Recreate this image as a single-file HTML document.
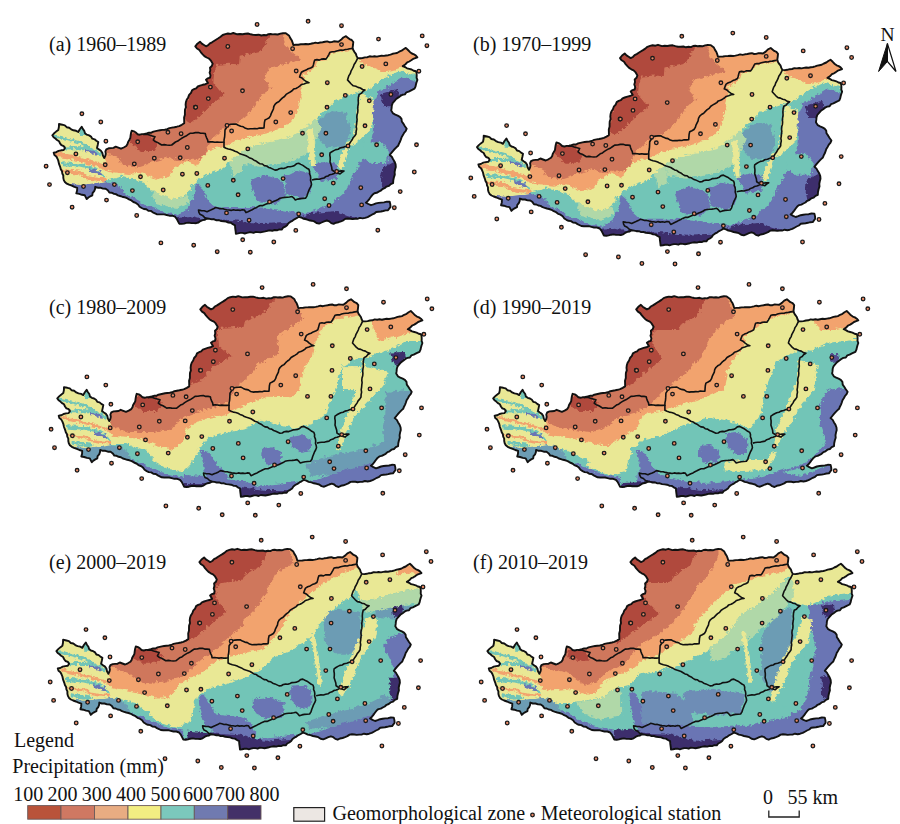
<!DOCTYPE html><html><head><meta charset="utf-8"><style>
html,body{margin:0;padding:0;background:#fff;width:900px;height:824px;overflow:hidden}
svg{display:block}
text{font-family:"Liberation Serif",serif;fill:#111}
</style></head><body>
<svg width="900" height="824" viewBox="0 0 900 824">
<defs>

<clipPath id="lp"><polygon points="195.3,46.3 197.4,43.7 200.0,41.7 201.8,43.6 204.0,45.0 206.0,46.3 208.2,45.2 209.9,43.4 212.0,42.3 214.0,41.0 216.0,39.7 218.3,38.3 220.6,36.8 222.7,35.0 225.3,34.1 227.9,33.5 230.7,33.9 233.3,33.0 237.3,34.3 240.0,34.0 242.7,34.2 245.3,33.7 248.0,33.5 250.7,34.3 253.3,34.9 256.0,35.0 258.7,34.7 261.3,35.5 264.0,35.0 266.2,35.3 268.4,34.2 270.6,34.0 272.8,34.4 275.0,34.2 277.7,34.5 280.4,33.6 283.1,33.2 285.8,33.3 289.2,35.8 290.3,38.1 291.7,40.2 292.6,42.6 293.3,45.0 295.8,44.8 298.3,44.7 300.8,44.3 303.3,44.2 305.8,44.0 308.3,44.2 310.7,43.8 313.0,43.3 315.4,42.6 317.9,43.1 320.2,42.5 322.6,42.2 325.0,41.7 327.2,41.4 329.4,42.2 331.6,42.1 333.9,41.3 336.1,41.5 338.3,41.7 341.0,39.8 343.3,37.5 346.0,36.2 347.8,37.7 349.5,39.1 351.7,40.0 353.3,42.0 353.0,45.0 352.6,47.9 353.3,50.1 354.5,52.1 355.9,53.9 356.6,56.1 357.7,58.1 360.2,58.3 362.6,58.0 365.0,57.4 367.4,57.2 369.7,56.3 372.2,56.6 374.5,56.2 376.9,56.6 379.2,56.1 381.5,55.7 383.9,55.9 386.1,55.5 388.3,55.2 390.5,54.6 392.6,53.8 394.8,53.4 397.0,53.0 399.2,51.7 401.6,50.7 403.6,49.2 405.8,47.9 408.0,50.0 410.1,52.2 411.9,53.5 414.0,54.3 415.9,55.6 417.4,57.3 415.3,58.1 413.1,58.9 411.2,60.3 409.3,61.5 407.2,62.4 405.2,64.5 402.8,66.1 405.0,67.0 407.0,68.3 409.3,68.9 411.6,69.5 413.7,70.7 416.0,71.2 416.6,73.3 416.7,75.6 416.6,77.8 417.4,79.9 416.6,82.1 416.0,84.3 415.5,86.6 414.5,88.7 411.6,90.1 408.7,91.6 406.4,92.3 404.9,94.4 402.4,94.8 400.4,95.9 398.5,97.4 396.2,99.0 394.4,101.1 392.6,103.2 391.8,105.6 391.6,108.1 391.2,110.5 393.1,113.4 395.3,114.6 397.7,115.6 399.9,116.8 401.5,118.8 401.8,121.5 403.3,123.6 404.9,126.2 406.7,128.7 405.7,131.0 404.1,132.9 402.9,135.1 401.6,137.2 400.9,139.4 400.1,141.5 399.0,143.6 398.2,145.7 396.4,147.3 394.7,149.0 393.1,150.8 391.4,152.9 389.7,155.0 391.8,156.8 393.1,159.3 394.6,161.7 395.6,164.4 395.8,167.0 395.1,169.5 394.6,172.0 394.8,174.6 393.9,177.4 393.3,180.2 393.1,183.1 390.8,184.1 389.0,185.9 386.5,186.6 384.6,188.2 382.5,189.0 380.7,190.7 378.7,191.7 376.7,192.8 374.4,193.3 372.5,194.8 371.0,196.7 369.5,198.8 367.9,200.9 365.9,202.6 368.4,204.0 371.0,205.2 373.5,204.4 376.0,203.4 378.6,202.9 381.2,202.6 384.0,202.4 386.8,201.7 389.7,201.8 390.3,204.3 390.5,206.9 388.0,210.3 385.6,210.4 383.2,211.0 380.9,211.5 378.5,211.7 376.1,212.0 374.2,213.7 371.9,214.7 369.8,215.9 367.6,217.1 365.1,217.9 362.6,218.4 359.9,217.9 357.4,218.8 355.0,218.8 352.6,219.1 350.3,218.7 347.9,218.5 345.5,218.8 343.3,220.3 340.9,221.3 338.5,222.2 335.9,222.7 333.6,223.9 331.2,223.1 329.2,221.4 326.8,220.5 324.2,221.4 321.6,222.5 319.1,223.6 316.5,223.0 314.2,221.4 311.6,220.7 308.9,220.2 306.4,219.3 303.7,218.8 301.3,217.5 298.7,216.8 296.6,218.2 294.4,219.3 292.4,220.8 290.2,221.9 288.4,223.3 287.1,225.3 285.2,226.7 283.1,227.7 281.7,229.6 279.3,229.4 277.0,230.3 274.5,230.0 272.2,230.8 269.8,230.4 267.5,230.8 265.1,231.4 262.8,231.9 260.4,232.4 258.0,232.1 255.8,231.9 253.6,232.9 251.3,232.3 249.1,232.3 246.9,232.9 244.8,233.5 242.5,232.9 240.3,232.9 238.1,233.4 235.9,233.8 235.6,231.0 235.2,228.1 235.0,225.3 232.8,224.2 230.8,222.8 228.4,222.6 226.1,221.6 223.6,221.3 221.2,221.0 218.9,220.2 216.5,220.3 214.2,219.3 211.7,219.4 209.4,218.8 207.0,218.5 205.0,219.7 202.6,220.1 200.4,221.1 198.5,222.5 196.1,223.2 193.7,223.1 191.3,223.1 188.8,222.6 186.4,222.9 184.0,223.6 181.6,223.9 179.2,223.7 178.0,221.3 176.7,218.8 175.0,216.7 172.3,215.7 169.4,215.7 166.7,215.0 164.2,214.4 161.7,214.4 159.2,214.4 156.7,214.2 152.8,212.3 150.8,210.9 148.3,210.7 146.3,209.3 143.8,209.0 141.7,208.0 139.6,206.7 138.0,204.5 135.8,202.9 133.4,202.0 131.4,200.4 129.0,199.4 126.8,198.0 124.4,197.2 122.2,196.7 120.0,196.0 117.9,195.4 115.9,194.1 113.6,193.7 111.6,192.7 109.3,192.5 107.8,190.3 105.6,188.7 102.9,188.6 100.4,187.7 97.7,187.7 95.2,186.8 95.0,189.1 94.2,191.2 92.6,193.0 92.3,195.3 90.3,196.3 88.4,197.5 86.7,199.1 84.8,195.3 81.9,194.8 79.2,193.9 76.3,193.4 77.1,190.6 77.2,187.8 74.4,186.9 71.8,185.7 69.0,184.7 66.8,183.7 64.9,182.1 63.8,180.1 63.3,177.9 63.3,175.5 62.3,173.5 62.0,171.2 60.8,169.2 60.2,167.0 59.0,163.9 58.3,160.7 57.4,158.5 56.3,156.5 54.4,155.0 53.7,152.7 56.2,152.2 58.6,150.9 61.1,150.3 63.7,150.0 65.0,148.0 63.7,146.1 61.4,145.2 60.0,143.4 59.0,141.2 57.0,140.0 55.4,138.5 53.6,137.2 52.3,135.3 54.1,133.3 56.1,131.6 58.3,130.0 58.9,127.0 59.0,124.0 62.3,124.7 64.8,125.3 66.7,127.2 69.2,127.7 71.2,129.3 73.5,130.3 76.1,130.8 78.3,132.0 79.8,129.2 81.7,126.7 82.8,128.9 84.3,130.9 85.0,133.3 86.8,134.7 89.1,135.4 91.0,136.6 92.3,138.7 94.6,139.3 96.3,140.8 98.3,142.0 97.7,145.0 97.0,148.0 98.9,149.4 100.9,150.8 102.3,152.7 102.9,155.5 104.3,158.0 105.3,155.9 105.8,153.8 105.4,151.4 106.3,149.3 108.6,148.3 111.0,148.1 113.5,147.9 115.7,146.7 118.3,147.7 121.0,148.7 123.7,147.5 126.3,146.0 127.5,144.1 128.1,141.9 129.3,140.0 130.3,138.0 130.6,135.5 131.0,133.1 131.7,130.7 133.9,131.3 135.8,132.5 137.5,134.2 139.7,134.7 142.0,134.1 144.4,133.9 146.7,133.4 149.0,132.7 151.3,132.7 153.4,131.6 155.6,131.1 157.8,130.6 160.0,130.2 162.2,129.9 164.7,129.7 167.2,129.2 169.4,128.1 171.9,127.6 174.4,127.2 176.8,126.7 179.2,126.1 181.8,124.8 184.2,123.3 184.2,120.4 184.1,117.6 184.9,114.8 184.9,112.2 185.0,109.7 185.9,107.3 185.6,104.7 185.9,102.2 186.7,99.7 188.2,97.4 189.1,94.9 191.0,92.8 192.0,90.3 194.0,89.1 196.2,88.3 197.8,86.5 200.0,85.7 202.7,84.8 205.4,84.2 208.0,83.0 206.0,79.7 207.8,78.3 210.0,77.7 210.5,75.2 209.6,72.7 210.3,70.2 210.0,67.7 211.8,66.0 212.7,63.7 210.7,60.3 208.9,58.5 206.6,57.5 204.4,56.1 202.7,54.3 200.9,52.3 199.3,50.0 197.0,48.5"/></clipPath>
<g id="bd">
<polygon points="195.3,46.3 197.4,43.7 200.0,41.7 201.8,43.6 204.0,45.0 206.0,46.3 208.2,45.2 209.9,43.4 212.0,42.3 214.0,41.0 216.0,39.7 218.3,38.3 220.6,36.8 222.7,35.0 225.3,34.1 227.9,33.5 230.7,33.9 233.3,33.0 237.3,34.3 240.0,34.0 242.7,34.2 245.3,33.7 248.0,33.5 250.7,34.3 253.3,34.9 256.0,35.0 258.7,34.7 261.3,35.5 264.0,35.0 266.2,35.3 268.4,34.2 270.6,34.0 272.8,34.4 275.0,34.2 277.7,34.5 280.4,33.6 283.1,33.2 285.8,33.3 289.2,35.8 290.3,38.1 291.7,40.2 292.6,42.6 293.3,45.0 295.8,44.8 298.3,44.7 300.8,44.3 303.3,44.2 305.8,44.0 308.3,44.2 310.7,43.8 313.0,43.3 315.4,42.6 317.9,43.1 320.2,42.5 322.6,42.2 325.0,41.7 327.2,41.4 329.4,42.2 331.6,42.1 333.9,41.3 336.1,41.5 338.3,41.7 341.0,39.8 343.3,37.5 346.0,36.2 347.8,37.7 349.5,39.1 351.7,40.0 353.3,42.0 353.0,45.0 352.6,47.9 353.3,50.1 354.5,52.1 355.9,53.9 356.6,56.1 357.7,58.1 360.2,58.3 362.6,58.0 365.0,57.4 367.4,57.2 369.7,56.3 372.2,56.6 374.5,56.2 376.9,56.6 379.2,56.1 381.5,55.7 383.9,55.9 386.1,55.5 388.3,55.2 390.5,54.6 392.6,53.8 394.8,53.4 397.0,53.0 399.2,51.7 401.6,50.7 403.6,49.2 405.8,47.9 408.0,50.0 410.1,52.2 411.9,53.5 414.0,54.3 415.9,55.6 417.4,57.3 415.3,58.1 413.1,58.9 411.2,60.3 409.3,61.5 407.2,62.4 405.2,64.5 402.8,66.1 405.0,67.0 407.0,68.3 409.3,68.9 411.6,69.5 413.7,70.7 416.0,71.2 416.6,73.3 416.7,75.6 416.6,77.8 417.4,79.9 416.6,82.1 416.0,84.3 415.5,86.6 414.5,88.7 411.6,90.1 408.7,91.6 406.4,92.3 404.9,94.4 402.4,94.8 400.4,95.9 398.5,97.4 396.2,99.0 394.4,101.1 392.6,103.2 391.8,105.6 391.6,108.1 391.2,110.5 393.1,113.4 395.3,114.6 397.7,115.6 399.9,116.8 401.5,118.8 401.8,121.5 403.3,123.6 404.9,126.2 406.7,128.7 405.7,131.0 404.1,132.9 402.9,135.1 401.6,137.2 400.9,139.4 400.1,141.5 399.0,143.6 398.2,145.7 396.4,147.3 394.7,149.0 393.1,150.8 391.4,152.9 389.7,155.0 391.8,156.8 393.1,159.3 394.6,161.7 395.6,164.4 395.8,167.0 395.1,169.5 394.6,172.0 394.8,174.6 393.9,177.4 393.3,180.2 393.1,183.1 390.8,184.1 389.0,185.9 386.5,186.6 384.6,188.2 382.5,189.0 380.7,190.7 378.7,191.7 376.7,192.8 374.4,193.3 372.5,194.8 371.0,196.7 369.5,198.8 367.9,200.9 365.9,202.6 368.4,204.0 371.0,205.2 373.5,204.4 376.0,203.4 378.6,202.9 381.2,202.6 384.0,202.4 386.8,201.7 389.7,201.8 390.3,204.3 390.5,206.9 388.0,210.3 385.6,210.4 383.2,211.0 380.9,211.5 378.5,211.7 376.1,212.0 374.2,213.7 371.9,214.7 369.8,215.9 367.6,217.1 365.1,217.9 362.6,218.4 359.9,217.9 357.4,218.8 355.0,218.8 352.6,219.1 350.3,218.7 347.9,218.5 345.5,218.8 343.3,220.3 340.9,221.3 338.5,222.2 335.9,222.7 333.6,223.9 331.2,223.1 329.2,221.4 326.8,220.5 324.2,221.4 321.6,222.5 319.1,223.6 316.5,223.0 314.2,221.4 311.6,220.7 308.9,220.2 306.4,219.3 303.7,218.8 301.3,217.5 298.7,216.8 296.6,218.2 294.4,219.3 292.4,220.8 290.2,221.9 288.4,223.3 287.1,225.3 285.2,226.7 283.1,227.7 281.7,229.6 279.3,229.4 277.0,230.3 274.5,230.0 272.2,230.8 269.8,230.4 267.5,230.8 265.1,231.4 262.8,231.9 260.4,232.4 258.0,232.1 255.8,231.9 253.6,232.9 251.3,232.3 249.1,232.3 246.9,232.9 244.8,233.5 242.5,232.9 240.3,232.9 238.1,233.4 235.9,233.8 235.6,231.0 235.2,228.1 235.0,225.3 232.8,224.2 230.8,222.8 228.4,222.6 226.1,221.6 223.6,221.3 221.2,221.0 218.9,220.2 216.5,220.3 214.2,219.3 211.7,219.4 209.4,218.8 207.0,218.5 205.0,219.7 202.6,220.1 200.4,221.1 198.5,222.5 196.1,223.2 193.7,223.1 191.3,223.1 188.8,222.6 186.4,222.9 184.0,223.6 181.6,223.9 179.2,223.7 178.0,221.3 176.7,218.8 175.0,216.7 172.3,215.7 169.4,215.7 166.7,215.0 164.2,214.4 161.7,214.4 159.2,214.4 156.7,214.2 152.8,212.3 150.8,210.9 148.3,210.7 146.3,209.3 143.8,209.0 141.7,208.0 139.6,206.7 138.0,204.5 135.8,202.9 133.4,202.0 131.4,200.4 129.0,199.4 126.8,198.0 124.4,197.2 122.2,196.7 120.0,196.0 117.9,195.4 115.9,194.1 113.6,193.7 111.6,192.7 109.3,192.5 107.8,190.3 105.6,188.7 102.9,188.6 100.4,187.7 97.7,187.7 95.2,186.8 95.0,189.1 94.2,191.2 92.6,193.0 92.3,195.3 90.3,196.3 88.4,197.5 86.7,199.1 84.8,195.3 81.9,194.8 79.2,193.9 76.3,193.4 77.1,190.6 77.2,187.8 74.4,186.9 71.8,185.7 69.0,184.7 66.8,183.7 64.9,182.1 63.8,180.1 63.3,177.9 63.3,175.5 62.3,173.5 62.0,171.2 60.8,169.2 60.2,167.0 59.0,163.9 58.3,160.7 57.4,158.5 56.3,156.5 54.4,155.0 53.7,152.7 56.2,152.2 58.6,150.9 61.1,150.3 63.7,150.0 65.0,148.0 63.7,146.1 61.4,145.2 60.0,143.4 59.0,141.2 57.0,140.0 55.4,138.5 53.6,137.2 52.3,135.3 54.1,133.3 56.1,131.6 58.3,130.0 58.9,127.0 59.0,124.0 62.3,124.7 64.8,125.3 66.7,127.2 69.2,127.7 71.2,129.3 73.5,130.3 76.1,130.8 78.3,132.0 79.8,129.2 81.7,126.7 82.8,128.9 84.3,130.9 85.0,133.3 86.8,134.7 89.1,135.4 91.0,136.6 92.3,138.7 94.6,139.3 96.3,140.8 98.3,142.0 97.7,145.0 97.0,148.0 98.9,149.4 100.9,150.8 102.3,152.7 102.9,155.5 104.3,158.0 105.3,155.9 105.8,153.8 105.4,151.4 106.3,149.3 108.6,148.3 111.0,148.1 113.5,147.9 115.7,146.7 118.3,147.7 121.0,148.7 123.7,147.5 126.3,146.0 127.5,144.1 128.1,141.9 129.3,140.0 130.3,138.0 130.6,135.5 131.0,133.1 131.7,130.7 133.9,131.3 135.8,132.5 137.5,134.2 139.7,134.7 142.0,134.1 144.4,133.9 146.7,133.4 149.0,132.7 151.3,132.7 153.4,131.6 155.6,131.1 157.8,130.6 160.0,130.2 162.2,129.9 164.7,129.7 167.2,129.2 169.4,128.1 171.9,127.6 174.4,127.2 176.8,126.7 179.2,126.1 181.8,124.8 184.2,123.3 184.2,120.4 184.1,117.6 184.9,114.8 184.9,112.2 185.0,109.7 185.9,107.3 185.6,104.7 185.9,102.2 186.7,99.7 188.2,97.4 189.1,94.9 191.0,92.8 192.0,90.3 194.0,89.1 196.2,88.3 197.8,86.5 200.0,85.7 202.7,84.8 205.4,84.2 208.0,83.0 206.0,79.7 207.8,78.3 210.0,77.7 210.5,75.2 209.6,72.7 210.3,70.2 210.0,67.7 211.8,66.0 212.7,63.7 210.7,60.3 208.9,58.5 206.6,57.5 204.4,56.1 202.7,54.3 200.9,52.3 199.3,50.0 197.0,48.5" fill="none" stroke="#111" stroke-width="1.9" stroke-linejoin="round"/>
<polyline points="352.0,48.5 349.8,48.8 347.6,49.3 345.4,49.5 343.2,50.2 341.0,50.1 338.8,50.4 336.6,51.0 334.5,51.8 332.2,51.8 330.0,52.2 328.8,54.6 327.5,56.9 326.0,59.1 323.7,58.9 321.4,59.1 319.3,60.1 316.9,59.6 314.7,60.1 314.0,62.3 313.5,64.5 312.8,66.7 310.6,68.0 308.2,68.8 306.0,70.1 303.6,71.0 301.4,72.3 300.4,74.6 299.6,77.0 302.1,78.1 304.2,80.1 306.4,81.6 309.0,82.7 306.4,82.9 303.9,83.9 301.4,84.6 299.7,86.2 297.9,87.4 295.9,88.5 293.6,89.1 292.1,90.8 290.2,92.0 288.2,93.1 286.1,94.4 284.5,96.5 282.5,97.9 280.7,99.6 279.0,101.5 276.8,102.7 275.0,104.4 273.8,106.5 273.4,109.0 272.4,111.1 271.3,113.3 270.6,115.6 269.3,117.7 267.2,118.9 265.0,120.0 264.4,122.6 264.2,125.3 264.0,128.0 261.7,128.1 259.4,128.0 257.2,128.7 254.9,128.5 252.6,128.8 250.3,128.8 248.0,129.0 245.5,128.3 243.3,126.8 240.7,126.3 238.3,125.3 236.0,124.0 233.3,124.1 230.6,124.3 228.0,125.0 226.6,127.5 225.0,130.0 224.9,132.4 224.8,134.8 224.6,137.2 224.1,139.6 224.0,142.0 221.7,142.3 219.4,142.3 217.1,142.0 214.9,142.3 212.6,141.9 210.3,141.7 208.0,142.0 207.6,139.8 206.6,137.8 205.8,135.7 205.3,133.6 203.0,133.3 200.6,133.3 198.3,132.5 195.5,132.6 192.8,133.2 190.0,133.3 188.0,134.7 186.0,136.1 183.8,137.1 181.7,138.3 179.7,139.6 177.8,141.1 175.5,142.0 173.6,143.5 171.7,145.0 169.2,145.2 166.7,145.0 164.2,144.6 161.7,145.0 159.6,143.7 157.5,142.4 155.2,141.6 153.3,140.0 155.0,136.7 152.2,135.9 149.5,135.1 146.7,134.2 143.0,134.5" fill="none" stroke="#111" stroke-width="1.6" stroke-linejoin="round"/>
<polyline points="357.7,58.1 356.6,60.3 355.5,62.5 354.1,64.5 353.3,66.9 352.2,69.0 351.0,71.2 350.3,73.5 348.9,75.6 348.2,77.7 347.5,79.9 349.3,81.9 351.2,84.0 353.3,85.8 355.8,86.3 358.0,87.4 360.4,88.0 362.6,89.5 365.0,90.1 362.9,91.4 361.3,93.4 359.1,94.5 358.4,97.4 358.2,100.3 358.4,103.2 358.0,105.5 357.7,107.9 357.9,110.3 357.7,112.6 357.0,114.9 356.8,117.2 357.1,119.6 356.8,121.9 356.6,124.2 356.2,126.5 356.6,129.0 356.1,131.5 356.0,134.0 354.7,136.0 353.1,137.8 352.0,140.0 350.6,141.9 349.3,144.0 348.0,146.0 345.3,146.5 342.7,147.4 340.0,148.0 338.1,149.2 335.8,149.6 333.8,150.6 331.9,151.7 330.0,153.0 329.8,155.2 330.2,157.5 330.2,159.8 330.0,162.0 330.9,164.6 331.7,167.2 332.0,170.0 333.9,171.2 336.0,171.9 337.9,173.3 340.0,174.0 341.9,172.4 344.0,171.0 341.3,170.9 338.6,171.4 336.0,172.0 334.2,173.4 332.1,174.2 329.8,174.7 328.0,176.0 325.8,176.6 324.0,178.0 321.6,178.5 319.3,179.2 316.8,179.1 314.4,179.4 312.0,180.0" fill="none" stroke="#111" stroke-width="1.6" stroke-linejoin="round"/>
<polyline points="224.0,142.0 224.0,144.6 224.0,147.2 226.1,148.2 228.3,149.0 230.7,149.4 233.0,150.2 235.0,151.3 237.3,152.1 239.3,153.4 241.5,154.2 243.8,154.9 246.0,155.7 248.0,156.9 249.9,158.1 252.2,158.8 254.0,160.2 256.1,161.1 258.0,162.5 260.0,163.8 262.4,164.0 264.3,165.6 266.7,166.0 268.6,167.4 270.8,168.1 272.9,169.1 275.0,170.1 277.2,169.9 279.2,168.7 281.4,168.3 283.8,168.5 285.9,167.7 287.9,166.8 290.2,166.7 292.5,166.3 294.6,165.4 296.4,163.8 298.7,163.3 300.8,164.4 302.9,165.4 304.9,166.8 306.8,168.2 308.9,169.3 309.6,171.4 309.5,173.7 310.4,175.8 310.7,178.0 310.5,180.3 311.2,182.4 311.5,184.6 310.6,186.9 309.4,189.1 308.5,191.4 307.6,193.7 306.9,196.1 305.5,198.2 302.9,198.4 300.3,198.6 297.8,199.1 295.3,199.9 293.8,198.1 292.0,196.5 289.6,197.0 287.2,197.3 284.8,197.4 282.4,197.7 280.0,198.2 278.1,199.5 276.1,200.4 274.0,201.3 271.9,202.2 269.9,203.2 267.4,203.6 265.1,204.6 262.9,205.6 260.3,205.6 258.0,206.6 256.0,207.7 254.0,208.6 252.1,209.8 250.0,210.7 248.0,211.7 246.0,212.6 244.4,210.0 242.2,209.8 240.0,210.4 237.8,210.0 235.6,210.3 233.4,209.8 231.2,210.4 229.0,210.0 226.7,209.8 224.5,209.3 222.3,208.6 219.9,208.7 217.7,208.0 215.5,207.5 213.5,208.8 211.3,209.8 209.1,210.7 207.0,211.7 204.2,210.7 201.3,210.6 198.5,210.0 198.9,212.3 200.0,214.3 202.5,215.4 204.5,217.4 207.0,218.5" fill="none" stroke="#111" stroke-width="1.6" stroke-linejoin="round"/>
</g>
<g id="st">
<circle cx="81.9" cy="113.8" r="1.8" fill="#ec8a66" stroke="#1a1a1a" stroke-width="1.3"/>
<circle cx="100.8" cy="122.0" r="1.8" fill="#ec8a66" stroke="#1a1a1a" stroke-width="1.3"/>
<circle cx="105.9" cy="141.2" r="1.8" fill="#ec8a66" stroke="#1a1a1a" stroke-width="1.3"/>
<circle cx="75.9" cy="153.9" r="1.8" fill="#ec8a66" stroke="#1a1a1a" stroke-width="1.3"/>
<circle cx="46.1" cy="166.2" r="1.8" fill="#ec8a66" stroke="#1a1a1a" stroke-width="1.3"/>
<circle cx="105.2" cy="164.8" r="1.8" fill="#ec8a66" stroke="#1a1a1a" stroke-width="1.3"/>
<circle cx="137.7" cy="141.8" r="1.8" fill="#ec8a66" stroke="#1a1a1a" stroke-width="1.3"/>
<circle cx="134.3" cy="163.9" r="1.8" fill="#ec8a66" stroke="#1a1a1a" stroke-width="1.3"/>
<circle cx="154.3" cy="158.2" r="1.8" fill="#ec8a66" stroke="#1a1a1a" stroke-width="1.3"/>
<circle cx="167.9" cy="132.3" r="1.8" fill="#ec8a66" stroke="#1a1a1a" stroke-width="1.3"/>
<circle cx="181.1" cy="133.7" r="1.8" fill="#ec8a66" stroke="#1a1a1a" stroke-width="1.3"/>
<circle cx="187.3" cy="147.5" r="1.8" fill="#ec8a66" stroke="#1a1a1a" stroke-width="1.3"/>
<circle cx="180.2" cy="157.8" r="1.8" fill="#ec8a66" stroke="#1a1a1a" stroke-width="1.3"/>
<circle cx="195.3" cy="107.2" r="1.8" fill="#ec8a66" stroke="#1a1a1a" stroke-width="1.3"/>
<circle cx="67.4" cy="172.7" r="1.8" fill="#ec8a66" stroke="#1a1a1a" stroke-width="1.3"/>
<circle cx="49.5" cy="184.6" r="1.8" fill="#ec8a66" stroke="#1a1a1a" stroke-width="1.3"/>
<circle cx="83.5" cy="186.5" r="1.8" fill="#ec8a66" stroke="#1a1a1a" stroke-width="1.3"/>
<circle cx="114.4" cy="184.6" r="1.8" fill="#ec8a66" stroke="#1a1a1a" stroke-width="1.3"/>
<circle cx="140.5" cy="176.8" r="1.8" fill="#ec8a66" stroke="#1a1a1a" stroke-width="1.3"/>
<circle cx="182.4" cy="174.2" r="1.8" fill="#ec8a66" stroke="#1a1a1a" stroke-width="1.3"/>
<circle cx="132.4" cy="190.6" r="1.8" fill="#ec8a66" stroke="#1a1a1a" stroke-width="1.3"/>
<circle cx="163.2" cy="190.0" r="1.8" fill="#ec8a66" stroke="#1a1a1a" stroke-width="1.3"/>
<circle cx="106.5" cy="200.1" r="1.8" fill="#ec8a66" stroke="#1a1a1a" stroke-width="1.3"/>
<circle cx="72.1" cy="207.2" r="1.8" fill="#ec8a66" stroke="#1a1a1a" stroke-width="1.3"/>
<circle cx="136.7" cy="215.5" r="1.8" fill="#ec8a66" stroke="#1a1a1a" stroke-width="1.3"/>
<circle cx="160.9" cy="242.9" r="1.8" fill="#ec8a66" stroke="#1a1a1a" stroke-width="1.3"/>
<circle cx="257.1" cy="24.5" r="1.8" fill="#ec8a66" stroke="#1a1a1a" stroke-width="1.3"/>
<circle cx="308.1" cy="21.3" r="1.8" fill="#ec8a66" stroke="#1a1a1a" stroke-width="1.3"/>
<circle cx="341.5" cy="25.7" r="1.8" fill="#ec8a66" stroke="#1a1a1a" stroke-width="1.3"/>
<circle cx="227.8" cy="46.5" r="1.8" fill="#ec8a66" stroke="#1a1a1a" stroke-width="1.3"/>
<circle cx="292.6" cy="48.7" r="1.8" fill="#ec8a66" stroke="#1a1a1a" stroke-width="1.3"/>
<circle cx="341.5" cy="44.6" r="1.8" fill="#ec8a66" stroke="#1a1a1a" stroke-width="1.3"/>
<circle cx="296.2" cy="71.0" r="1.8" fill="#ec8a66" stroke="#1a1a1a" stroke-width="1.3"/>
<circle cx="210.4" cy="87.1" r="1.8" fill="#ec8a66" stroke="#1a1a1a" stroke-width="1.3"/>
<circle cx="242.5" cy="90.8" r="1.8" fill="#ec8a66" stroke="#1a1a1a" stroke-width="1.3"/>
<circle cx="208.3" cy="98.6" r="1.8" fill="#ec8a66" stroke="#1a1a1a" stroke-width="1.3"/>
<circle cx="195.7" cy="107.3" r="1.8" fill="#ec8a66" stroke="#1a1a1a" stroke-width="1.3"/>
<circle cx="327.3" cy="82.7" r="1.8" fill="#ec8a66" stroke="#1a1a1a" stroke-width="1.3"/>
<circle cx="345.3" cy="95.4" r="1.8" fill="#ec8a66" stroke="#1a1a1a" stroke-width="1.3"/>
<circle cx="327.0" cy="107.3" r="1.8" fill="#ec8a66" stroke="#1a1a1a" stroke-width="1.3"/>
<circle cx="290.7" cy="112.6" r="1.8" fill="#ec8a66" stroke="#1a1a1a" stroke-width="1.3"/>
<circle cx="378.5" cy="39.1" r="1.8" fill="#ec8a66" stroke="#1a1a1a" stroke-width="1.3"/>
<circle cx="422.2" cy="35.9" r="1.8" fill="#ec8a66" stroke="#1a1a1a" stroke-width="1.3"/>
<circle cx="426.9" cy="45.7" r="1.8" fill="#ec8a66" stroke="#1a1a1a" stroke-width="1.3"/>
<circle cx="385.8" cy="63.9" r="1.8" fill="#ec8a66" stroke="#1a1a1a" stroke-width="1.3"/>
<circle cx="362.1" cy="66.5" r="1.8" fill="#ec8a66" stroke="#1a1a1a" stroke-width="1.3"/>
<circle cx="418.9" cy="71.2" r="1.8" fill="#ec8a66" stroke="#1a1a1a" stroke-width="1.3"/>
<circle cx="390.9" cy="94.5" r="1.8" fill="#ec8a66" stroke="#1a1a1a" stroke-width="1.3"/>
<circle cx="369.3" cy="100.8" r="1.8" fill="#ec8a66" stroke="#1a1a1a" stroke-width="1.3"/>
<circle cx="365.0" cy="125.8" r="1.8" fill="#ec8a66" stroke="#1a1a1a" stroke-width="1.3"/>
<circle cx="275.8" cy="122.0" r="1.8" fill="#ec8a66" stroke="#1a1a1a" stroke-width="1.3"/>
<circle cx="227.0" cy="125.4" r="1.8" fill="#ec8a66" stroke="#1a1a1a" stroke-width="1.3"/>
<circle cx="231.6" cy="131.0" r="1.8" fill="#ec8a66" stroke="#1a1a1a" stroke-width="1.3"/>
<circle cx="302.5" cy="133.3" r="1.8" fill="#ec8a66" stroke="#1a1a1a" stroke-width="1.3"/>
<circle cx="325.9" cy="133.3" r="1.8" fill="#ec8a66" stroke="#1a1a1a" stroke-width="1.3"/>
<circle cx="247.8" cy="148.9" r="1.8" fill="#ec8a66" stroke="#1a1a1a" stroke-width="1.3"/>
<circle cx="224.5" cy="158.2" r="1.8" fill="#ec8a66" stroke="#1a1a1a" stroke-width="1.3"/>
<circle cx="321.7" cy="154.8" r="1.8" fill="#ec8a66" stroke="#1a1a1a" stroke-width="1.3"/>
<circle cx="196.8" cy="173.5" r="1.8" fill="#ec8a66" stroke="#1a1a1a" stroke-width="1.3"/>
<circle cx="233.3" cy="180.3" r="1.8" fill="#ec8a66" stroke="#1a1a1a" stroke-width="1.3"/>
<circle cx="283.1" cy="178.6" r="1.8" fill="#ec8a66" stroke="#1a1a1a" stroke-width="1.3"/>
<circle cx="207.8" cy="185.4" r="1.8" fill="#ec8a66" stroke="#1a1a1a" stroke-width="1.3"/>
<circle cx="238.1" cy="194.8" r="1.8" fill="#ec8a66" stroke="#1a1a1a" stroke-width="1.3"/>
<circle cx="269.5" cy="201.9" r="1.8" fill="#ec8a66" stroke="#1a1a1a" stroke-width="1.3"/>
<circle cx="324.7" cy="198.7" r="1.8" fill="#ec8a66" stroke="#1a1a1a" stroke-width="1.3"/>
<circle cx="329.0" cy="205.5" r="1.8" fill="#ec8a66" stroke="#1a1a1a" stroke-width="1.3"/>
<circle cx="226.5" cy="212.9" r="1.8" fill="#ec8a66" stroke="#1a1a1a" stroke-width="1.3"/>
<circle cx="249.1" cy="220.2" r="1.8" fill="#ec8a66" stroke="#1a1a1a" stroke-width="1.3"/>
<circle cx="298.7" cy="214.0" r="1.8" fill="#ec8a66" stroke="#1a1a1a" stroke-width="1.3"/>
<circle cx="295.8" cy="230.4" r="1.8" fill="#ec8a66" stroke="#1a1a1a" stroke-width="1.3"/>
<circle cx="242.7" cy="239.8" r="1.8" fill="#ec8a66" stroke="#1a1a1a" stroke-width="1.3"/>
<circle cx="273.8" cy="242.0" r="1.8" fill="#ec8a66" stroke="#1a1a1a" stroke-width="1.3"/>
<circle cx="193.7" cy="245.2" r="1.8" fill="#ec8a66" stroke="#1a1a1a" stroke-width="1.3"/>
<circle cx="217.2" cy="251.7" r="1.8" fill="#ec8a66" stroke="#1a1a1a" stroke-width="1.3"/>
<circle cx="250.3" cy="252.2" r="1.8" fill="#ec8a66" stroke="#1a1a1a" stroke-width="1.3"/>
<circle cx="348.0" cy="146.0" r="1.8" fill="#ec8a66" stroke="#1a1a1a" stroke-width="1.3"/>
<circle cx="376.6" cy="144.8" r="1.8" fill="#ec8a66" stroke="#1a1a1a" stroke-width="1.3"/>
<circle cx="416.5" cy="144.8" r="1.8" fill="#ec8a66" stroke="#1a1a1a" stroke-width="1.3"/>
<circle cx="336.7" cy="171.5" r="1.8" fill="#ec8a66" stroke="#1a1a1a" stroke-width="1.3"/>
<circle cx="414.3" cy="172.0" r="1.8" fill="#ec8a66" stroke="#1a1a1a" stroke-width="1.3"/>
<circle cx="333.3" cy="183.1" r="1.8" fill="#ec8a66" stroke="#1a1a1a" stroke-width="1.3"/>
<circle cx="360.8" cy="187.7" r="1.8" fill="#ec8a66" stroke="#1a1a1a" stroke-width="1.3"/>
<circle cx="400.2" cy="191.6" r="1.8" fill="#ec8a66" stroke="#1a1a1a" stroke-width="1.3"/>
<circle cx="361.6" cy="204.9" r="1.8" fill="#ec8a66" stroke="#1a1a1a" stroke-width="1.3"/>
<circle cx="394.3" cy="207.7" r="1.8" fill="#ec8a66" stroke="#1a1a1a" stroke-width="1.3"/>
<circle cx="377.8" cy="230.2" r="1.8" fill="#ec8a66" stroke="#1a1a1a" stroke-width="1.3"/>
</g>
<filter id="rough" x="-5%" y="-5%" width="110%" height="110%"><feTurbulence type="turbulence" baseFrequency="0.18" numOctaves="2" seed="3" result="n"/><feDisplacementMap in="SourceGraphic" in2="n" scale="5" xChannelSelector="R" yChannelSelector="G"/></filter>
<filter id="rough2" x="-5%" y="-5%" width="110%" height="110%"><feTurbulence type="turbulence" baseFrequency="0.6" numOctaves="1" seed="7" result="n"/><feDisplacementMap in="SourceGraphic" in2="n" scale="1.6" xChannelSelector="R" yChannelSelector="G"/></filter>
</defs>
<g transform="translate(0,0)">
<g clip-path="url(#lp)"><g filter="url(#rough)">
<polygon points="0.0,0.0 450.0,0.0 450.0,270.0 0.0,270.0" fill="#72c5b7"/>
<polygon points="305.6,212.0 328.0,204.0 343.0,191.0 352.0,175.0 360.0,160.0 368.0,148.0 372.0,130.0 371.8,102.2 376.4,91.3 388.9,83.5 401.3,75.8 416.9,80.4 450.0,80.0 450.0,270.0 305.0,270.0" fill="#6a74b4"/>
<polygon points="362.0,141.0 380.0,140.0 387.0,150.0 386.0,162.0 370.0,162.0 360.0,155.0" fill="#72c5b7"/>
<polygon points="315.0,120.0 330.0,110.0 345.0,112.0 350.0,130.0 343.0,147.0 325.0,146.0 316.0,135.0" fill="#6c9cb4"/>
<polygon points="311.0,165.0 325.0,160.0 336.0,163.0 336.0,178.0 320.0,180.0" fill="#6a74b4"/>
<polygon points="283.0,175.0 295.0,169.0 309.0,172.0 310.0,190.0 300.0,198.0 285.0,192.0" fill="#6a74b4"/>
<polygon points="249.0,180.0 262.0,173.0 280.0,178.0 285.0,192.0 275.0,203.0 255.0,200.0" fill="#6a74b4"/>
<polygon points="90.0,183.0 100.0,183.5 110.2,190.0 134.0,197.0 144.2,204.0 161.2,210.5 174.8,214.0 185.0,209.0 192.0,198.0 195.0,181.6 200.0,186.0 208.0,200.0 215.0,206.0 240.0,206.0 250.0,206.0 268.0,207.0 285.0,210.0 305.6,212.0 305.6,270.0 60.0,270.0" fill="#6a74b4"/>
<polygon points="175.0,216.0 190.0,215.0 202.0,218.0 230.0,219.0 260.0,222.0 287.0,221.0 300.0,216.0 310.0,212.0 336.0,210.0 345.0,214.0 360.0,218.0 360.0,270.0 170.0,270.0" fill="#3d2e6c"/>
<polygon points="381.0,166.0 392.0,160.0 400.0,165.0 398.0,196.0 384.0,196.0 380.0,180.0" fill="#3d2e6c"/>
<polygon points="379.5,92.9 395.1,88.2 399.8,97.5 392.0,105.3 382.6,105.3" fill="#3d2e6c"/>
<polygon points="100.0,178.0 106.8,178.2 120.4,174.8 134.0,178.2 144.2,181.6 151.0,190.0 161.2,195.1 171.4,198.5 181.5,195.1 190.0,188.3 195.0,180.0 205.3,173.0 219.0,168.0 229.0,161.2 241.3,150.4 258.3,142.9 277.2,141.0 292.3,135.3 305.6,127.8 315.0,118.3 324.4,108.9 333.9,99.4 347.1,93.8 358.4,90.0 367.1,88.2 382.6,77.3 398.2,69.5 416.9,75.8 450.0,75.0 450.0,0.0 40.0,0.0 40.0,178.0" fill="#e9e895"/>
<polygon points="151.0,190.0 171.0,198.0 185.0,195.0 190.0,200.0 175.0,207.0 155.0,203.0" fill="#b0d8a8"/>
<polygon points="241.0,150.0 258.0,143.0 292.0,135.0 315.0,118.0 320.0,125.0 310.0,150.0 290.0,160.0 260.0,165.0 241.0,163.0" fill="#b0d8a8"/>
<polygon points="229.0,161.0 241.0,150.0 241.0,170.0 232.0,175.0" fill="#b0d8a8"/>
<polygon points="305.0,128.0 312.0,128.0 314.0,164.0 309.0,164.0" fill="#e9e895"/>
<polygon points="358.4,90.0 373.6,99.4 369.8,127.8 358.4,139.1 347.1,146.7 341.4,169.3 335.8,165.6 343.3,146.7 352.8,133.4 356.6,108.9" fill="#e9e895"/>
<polygon points="100.0,168.0 113.6,171.4 127.2,173.0 140.8,171.4 156.0,178.2 168.0,174.8 174.8,166.3 185.0,159.5 195.0,164.6 202.0,154.4 212.0,147.6 225.7,144.2 230.0,141.0 248.9,135.3 271.6,129.7 286.7,124.0 294.2,114.6 298.0,101.3 301.8,90.0 300.2,85.1 303.0,75.0 313.0,66.0 315.0,60.0 326.0,58.0 330.0,52.0 352.0,48.5 354.0,0.0 40.0,0.0 40.0,168.0" fill="#f2a36e"/>
<polygon points="358.0,58.0 358.3,61.7 368.3,65.0 381.7,70.8 395.0,68.3 405.0,65.0 416.7,58.3 450.0,58.0 450.0,0.0 358.0,0.0" fill="#f2a36e"/>
<polygon points="100.0,151.0 117.0,156.0 122.0,164.6 134.0,166.3 144.2,162.9 156.0,159.5 168.0,156.0 176.5,159.5 188.3,157.8 198.5,157.8 205.3,151.0 208.7,140.0 220.2,129.0 236.1,121.0 246.0,114.0 254.9,101.7 260.7,93.0 270.8,86.0 262.7,77.3 268.0,66.7 300.0,58.7 290.0,50.0 285.0,45.0 280.0,30.0 280.0,0.0 100.0,0.0" fill="#cf775c"/>
<polygon points="190.0,0.0 268.0,0.0 268.0,36.0 260.0,50.0 238.7,54.7 238.0,63.3 226.7,62.7 214.7,64.0 212.0,72.0 211.3,81.3 214.7,84.0 222.7,93.3 210.7,102.7 197.3,116.0 188.0,121.3 183.0,118.0 187.0,95.0 170.0,60.0" fill="#b0483c"/>
<polygon points="130.0,131.0 150.0,134.0 157.0,142.0 152.0,150.0 140.0,150.0 132.0,145.0 128.0,138.0" fill="#b0483c"/>
<polygon points="30.0,100.0 108.0,100.0 103.0,156.0 106.0,168.0 104.0,183.0 30.0,200.0" fill="#e9e895"/>
<polyline points="50.0,134.0 66.0,138.0 78.9,141.7 91.3,148.9 100.0,153.0" fill="none" stroke="#72c5b7" stroke-width="2.5" stroke-linejoin="round" stroke-linecap="round"/>
<polygon points="78.0,124.0 86.0,124.0 86.0,134.0 78.0,134.0" fill="#72c5b7"/>
<polyline points="50.0,153.0 68.6,155.0 84.1,160.0 99.5,164.0 106.0,167.0" fill="none" stroke="#f2a36e" stroke-width="5" stroke-linejoin="round" stroke-linecap="round"/>
<polyline points="60.0,147.0 84.1,146.5 97.5,152.5" fill="none" stroke="#72c5b7" stroke-width="3" stroke-linejoin="round" stroke-linecap="round"/>
<polyline points="86.0,149.5 95.0,152.0" fill="none" stroke="#6a74b4" stroke-width="3" stroke-linejoin="round" stroke-linecap="round"/>
<polyline points="55.0,170.0 78.9,171.5 84.1,176.0 97.5,178.0 104.0,178.0" fill="none" stroke="#f2a36e" stroke-width="4" stroke-linejoin="round" stroke-linecap="round"/>
<polyline points="61.4,162.8 78.9,164.0 91.3,167.0 102.6,174.0" fill="none" stroke="#72c5b7" stroke-width="3" stroke-linejoin="round" stroke-linecap="round"/>
<polyline points="89.0,169.0 100.0,172.0" fill="none" stroke="#6a74b4" stroke-width="3" stroke-linejoin="round" stroke-linecap="round"/>
<polygon points="60.0,181.0 68.6,181.9 84.1,183.5 94.4,181.9 104.7,180.0 118.0,184.0 125.0,195.0 90.0,205.0 60.0,200.0" fill="#6a74b4"/>
</g></g>
<use href="#bd"/><use href="#st"/>
</g>
<g transform="translate(424.7,11.8)">
<g clip-path="url(#lp)"><g filter="url(#rough)">
<polygon points="0.0,0.0 450.0,0.0 450.0,270.0 0.0,270.0" fill="#72c5b7"/>
<polygon points="305.6,212.0 328.0,204.0 343.0,191.0 352.0,175.0 360.0,160.0 368.0,148.0 372.0,130.0 371.8,102.2 376.4,91.3 388.9,83.5 401.3,75.8 416.9,80.4 450.0,80.0 450.0,270.0 305.0,270.0" fill="#6a74b4"/>
<polygon points="362.0,141.0 380.0,140.0 387.0,150.0 386.0,162.0 370.0,162.0 360.0,155.0" fill="#72c5b7"/>
<polygon points="315.0,120.0 330.0,110.0 345.0,112.0 350.0,130.0 343.0,147.0 325.0,146.0 316.0,135.0" fill="#6c9cb4"/>
<polygon points="311.0,165.0 325.0,160.0 336.0,163.0 336.0,178.0 320.0,180.0" fill="#6a74b4"/>
<polygon points="283.0,175.0 295.0,169.0 309.0,172.0 310.0,190.0 300.0,198.0 285.0,192.0" fill="#6a74b4"/>
<polygon points="249.0,180.0 262.0,173.0 280.0,178.0 285.0,192.0 275.0,203.0 255.0,200.0" fill="#6a74b4"/>
<polygon points="90.0,183.0 100.0,183.5 110.2,190.0 134.0,197.0 144.2,204.0 161.2,210.5 174.8,214.0 185.0,209.0 192.0,198.0 195.0,181.6 200.0,186.0 208.0,200.0 215.0,206.0 240.0,206.0 250.0,206.0 268.0,207.0 285.0,210.0 305.6,212.0 305.6,270.0 60.0,270.0" fill="#6a74b4"/>
<polygon points="175.0,216.0 190.0,215.0 202.0,218.0 230.0,219.0 260.0,222.0 287.0,221.0 300.0,216.0 310.0,212.0 336.0,210.0 345.0,214.0 360.0,218.0 360.0,270.0 170.0,270.0" fill="#3d2e6c"/>
<polygon points="381.0,166.0 392.0,160.0 400.0,165.0 398.0,196.0 384.0,196.0 380.0,180.0" fill="#3d2e6c"/>
<polygon points="379.5,92.9 395.1,88.2 399.8,97.5 392.0,105.3 382.6,105.3" fill="#3d2e6c"/>
<polygon points="100.0,178.0 106.8,178.2 120.4,174.8 134.0,178.2 144.2,181.6 151.0,190.0 161.2,195.1 171.4,198.5 181.5,195.1 190.0,188.3 195.0,180.0 205.3,173.0 219.0,168.0 229.0,161.2 241.3,150.4 258.3,142.9 277.2,141.0 292.3,135.3 305.6,127.8 315.0,118.3 324.4,108.9 333.9,99.4 347.1,93.8 358.4,90.0 367.1,88.2 382.6,77.3 398.2,69.5 416.9,75.8 450.0,75.0 450.0,0.0 40.0,0.0 40.0,178.0" fill="#e9e895"/>
<polygon points="151.0,190.0 171.0,198.0 185.0,195.0 190.0,200.0 175.0,207.0 155.0,203.0" fill="#b0d8a8"/>
<polygon points="241.0,150.0 258.0,143.0 292.0,135.0 315.0,118.0 320.0,125.0 310.0,150.0 290.0,160.0 260.0,165.0 241.0,163.0" fill="#b0d8a8"/>
<polygon points="229.0,161.0 241.0,150.0 241.0,170.0 232.0,175.0" fill="#b0d8a8"/>
<polygon points="305.0,128.0 312.0,128.0 314.0,164.0 309.0,164.0" fill="#e9e895"/>
<polygon points="358.4,90.0 373.6,99.4 369.8,127.8 358.4,139.1 347.1,146.7 341.4,169.3 335.8,165.6 343.3,146.7 352.8,133.4 356.6,108.9" fill="#e9e895"/>
<polygon points="100.0,168.0 113.6,171.4 127.2,173.0 140.8,171.4 156.0,178.2 168.0,174.8 174.8,166.3 185.0,159.5 195.0,164.6 202.0,154.4 212.0,147.6 225.7,144.2 230.0,141.0 248.9,135.3 271.6,129.7 286.7,124.0 294.2,114.6 298.0,101.3 301.8,90.0 300.2,85.1 303.0,75.0 313.0,66.0 315.0,60.0 326.0,58.0 330.0,52.0 352.0,48.5 354.0,0.0 40.0,0.0 40.0,168.0" fill="#f2a36e"/>
<polygon points="358.0,58.0 358.3,61.7 368.3,65.0 381.7,70.8 395.0,68.3 405.0,65.0 416.7,58.3 450.0,58.0 450.0,0.0 358.0,0.0" fill="#f2a36e"/>
<polygon points="100.0,151.0 117.0,156.0 122.0,164.6 134.0,166.3 144.2,162.9 156.0,159.5 168.0,156.0 176.5,159.5 188.3,157.8 198.5,157.8 205.3,151.0 208.7,140.0 220.2,129.0 236.1,121.0 246.0,114.0 254.9,101.7 260.7,93.0 270.8,86.0 262.7,77.3 268.0,66.7 300.0,58.7 290.0,50.0 285.0,45.0 280.0,30.0 280.0,0.0 100.0,0.0" fill="#cf775c"/>
<polygon points="190.0,0.0 268.0,0.0 268.0,36.0 260.0,50.0 238.7,54.7 238.0,63.3 226.7,62.7 214.7,64.0 212.0,72.0 211.3,81.3 214.7,84.0 222.7,93.3 210.7,102.7 197.3,116.0 188.0,121.3 183.0,118.0 187.0,95.0 170.0,60.0" fill="#b0483c"/>
<polygon points="130.0,131.0 150.0,134.0 157.0,142.0 152.0,150.0 140.0,150.0 132.0,145.0 128.0,138.0" fill="#b0483c"/>
<polygon points="30.0,100.0 108.0,100.0 103.0,156.0 106.0,168.0 104.0,183.0 30.0,200.0" fill="#e9e895"/>
<polyline points="50.0,134.0 66.0,138.0 78.9,141.7 91.3,148.9 100.0,153.0" fill="none" stroke="#72c5b7" stroke-width="2.5" stroke-linejoin="round" stroke-linecap="round"/>
<polygon points="78.0,124.0 86.0,124.0 86.0,134.0 78.0,134.0" fill="#72c5b7"/>
<polyline points="50.0,153.0 68.6,155.0 84.1,160.0 99.5,164.0 106.0,167.0" fill="none" stroke="#f2a36e" stroke-width="5" stroke-linejoin="round" stroke-linecap="round"/>
<polyline points="60.0,147.0 84.1,146.5 97.5,152.5" fill="none" stroke="#72c5b7" stroke-width="3" stroke-linejoin="round" stroke-linecap="round"/>
<polyline points="86.0,149.5 95.0,152.0" fill="none" stroke="#6a74b4" stroke-width="3" stroke-linejoin="round" stroke-linecap="round"/>
<polyline points="55.0,170.0 78.9,171.5 84.1,176.0 97.5,178.0 104.0,178.0" fill="none" stroke="#f2a36e" stroke-width="4" stroke-linejoin="round" stroke-linecap="round"/>
<polyline points="61.4,162.8 78.9,164.0 91.3,167.0 102.6,174.0" fill="none" stroke="#72c5b7" stroke-width="3" stroke-linejoin="round" stroke-linecap="round"/>
<polyline points="89.0,169.0 100.0,172.0" fill="none" stroke="#6a74b4" stroke-width="3" stroke-linejoin="round" stroke-linecap="round"/>
<polygon points="60.0,181.0 68.6,181.9 84.1,183.5 94.4,181.9 104.7,180.0 118.0,184.0 125.0,195.0 90.0,205.0 60.0,200.0" fill="#6a74b4"/>
</g></g>
<use href="#bd"/><use href="#st"/>
</g>
<g transform="translate(5,263.1)">
<g clip-path="url(#lp)"><g filter="url(#rough)">
<polygon points="0.0,0.0 450.0,0.0 450.0,270.0 0.0,270.0" fill="#72c5b7"/>
<polygon points="380.0,128.0 400.0,126.0 450.0,126.0 450.0,200.0 396.0,198.0 380.0,190.0 377.0,165.0" fill="#6c9cb4"/>
<polygon points="300.0,200.0 330.0,190.0 360.0,185.0 385.0,175.0 392.0,186.0 379.0,195.0 355.0,201.0 325.0,210.0 305.0,212.0" fill="#6c9cb4"/>
<polygon points="244.0,222.0 280.0,219.0 307.0,216.0 325.0,210.0 355.0,201.0 379.0,195.0 391.0,186.0 395.0,188.0 400.0,198.0 450.0,198.0 450.0,270.0 244.0,270.0" fill="#6a74b4"/>
<polygon points="284.0,172.0 296.0,170.0 305.0,176.0 305.0,186.0 294.0,188.0 285.0,182.0" fill="#6a74b4"/>
<polygon points="257.0,184.0 268.0,182.0 276.0,190.0 274.0,200.0 262.0,201.0 256.0,194.0" fill="#6a74b4"/>
<polygon points="178.0,211.0 200.0,212.0 220.0,214.0 244.0,218.0 250.0,222.0 250.0,270.0 175.0,270.0" fill="#6a74b4"/>
<polygon points="194.0,186.0 200.0,186.0 212.0,200.0 222.0,212.0 215.0,220.0 200.0,214.0" fill="#6a74b4"/>
<polygon points="95.0,183.0 105.0,185.0 124.0,193.0 136.0,198.5 152.0,207.5 166.0,211.0 178.0,213.0 178.0,240.0 90.0,240.0" fill="#6a74b4"/>
<polygon points="178.0,219.0 205.0,219.0 233.0,223.0 260.0,226.0 287.0,226.0 295.0,224.0 300.0,270.0 175.0,270.0" fill="#3d2e6c"/>
<polygon points="384.0,88.4 398.0,88.0 400.0,100.0 388.0,101.0" fill="#3d2e6c"/>
<polygon points="95.0,172.0 105.7,180.0 123.4,181.0 137.7,188.0 148.0,197.0 162.6,205.0 176.8,207.1 187.4,196.5 194.6,182.2 201.7,173.3 219.4,168.0 237.2,164.5 246.1,160.9 254.7,155.7 286.8,163.7 302.8,161.0 308.0,157.6 319.6,148.4 328.8,127.6 335.7,102.3 351.9,93.0 361.0,93.0 381.9,86.1 400.3,76.9 416.5,76.9 450.0,76.0 450.0,0.0 40.0,0.0 40.0,181.0" fill="#e9e895"/>
<polygon points="336.0,102.0 354.0,102.0 354.0,125.0 336.0,125.0" fill="#e9e895"/>
<polygon points="100.0,180.0 120.0,180.0 140.0,186.0 148.0,195.0 140.0,200.0 125.0,196.0 108.0,190.0" fill="#72c5b7"/>
<polygon points="356.0,95.0 361.0,102.3 381.9,106.9 377.3,120.7 361.0,139.2 347.3,153.0 338.0,176.0 333.4,185.3 330.0,185.0 335.0,165.0 345.0,140.0 355.0,110.0" fill="#e9e895"/>
<polygon points="95.0,168.0 105.7,171.6 130.6,173.3 148.3,180.5 166.1,185.8 176.8,176.9 180.3,164.5 194.6,155.6 219.4,150.2 230.0,145.0 260.0,131.7 285.0,132.2 293.3,124.9 296.7,104.9 306.0,92.0 308.3,79.9 316.7,63.2 330.0,54.9 355.0,49.9 355.0,0.0 40.0,0.0 40.0,163.0" fill="#f2a36e"/>
<polygon points="366.0,62.0 372.6,76.9 391.0,72.3 405.0,67.7 416.5,63.0 450.0,63.0 450.0,0.0 366.0,0.0" fill="#f2a36e"/>
<polygon points="98.0,150.0 102.1,160.9 121.7,168.0 148.3,168.0 166.1,164.5 175.0,153.8 194.6,146.7 208.8,143.1 223.0,136.0 228.1,123.7 241.4,113.0 252.1,99.7 273.4,89.0 270.8,73.0 281.4,65.0 297.5,54.3 292.1,40.9 290.0,0.0 100.0,0.0" fill="#cf775c"/>
<polygon points="170.0,0.0 268.1,0.0 268.1,35.6 257.4,48.9 238.7,56.9 237.4,62.3 214.7,63.6 210.7,67.6 212.0,81.0 225.4,91.6 206.7,102.3 196.0,115.7 180.0,121.0 170.0,100.0" fill="#b0483c"/>
<polygon points="131.0,131.0 150.0,133.0 157.0,140.0 150.0,147.0 135.0,147.0 127.0,140.0" fill="#b0483c"/>
<polygon points="30.0,100.0 108.0,100.0 103.0,156.0 106.0,168.0 104.0,183.0 30.0,200.0" fill="#e9e895"/>
<polyline points="50.0,134.0 66.0,138.0 78.9,141.7 91.3,148.9 100.0,153.0" fill="none" stroke="#72c5b7" stroke-width="3" stroke-linejoin="round" stroke-linecap="round"/>
<polygon points="78.0,124.0 86.0,124.0 86.0,134.0 78.0,134.0" fill="#72c5b7"/>
<polyline points="56.0,153.0 68.6,156.0 84.1,160.0 99.5,164.0 106.0,167.0" fill="none" stroke="#f2a36e" stroke-width="3" stroke-linejoin="round" stroke-linecap="round"/>
<polyline points="60.0,147.0 84.1,146.5 97.5,152.5" fill="none" stroke="#72c5b7" stroke-width="3" stroke-linejoin="round" stroke-linecap="round"/>
<polyline points="86.0,149.5 95.0,152.0" fill="none" stroke="#6a74b4" stroke-width="3" stroke-linejoin="round" stroke-linecap="round"/>
<polyline points="62.0,172.0 78.9,172.5 84.1,176.0 97.5,178.0 104.0,178.0" fill="none" stroke="#f2a36e" stroke-width="2.5" stroke-linejoin="round" stroke-linecap="round"/>
<polyline points="61.4,162.8 78.9,164.0 91.3,167.0 102.6,174.0" fill="none" stroke="#72c5b7" stroke-width="3.5" stroke-linejoin="round" stroke-linecap="round"/>
<polyline points="89.0,169.0 100.0,172.0" fill="none" stroke="#6a74b4" stroke-width="3" stroke-linejoin="round" stroke-linecap="round"/>
<polyline points="66.0,178.0 75.0,180.0 85.0,181.0" fill="none" stroke="#72c5b7" stroke-width="3" stroke-linejoin="round" stroke-linecap="round"/>
<polygon points="60.0,181.0 68.6,181.9 84.1,183.5 94.4,181.9 104.7,180.0 118.0,184.0 125.0,195.0 90.0,205.0 60.0,200.0" fill="#6c9cb4"/>
</g></g>
<use href="#bd"/><use href="#st"/>
</g>
<g transform="translate(440.9,263.1)">
<g clip-path="url(#lp)"><g filter="url(#rough)">
<polygon points="0.0,0.0 450.0,0.0 450.0,270.0 0.0,270.0" fill="#72c5b7"/>
<polygon points="270.0,221.0 300.0,216.0 320.0,212.0 340.0,206.0 360.0,200.0 372.0,192.0 384.0,178.0 378.0,160.0 378.0,140.0 385.0,126.0 400.0,124.0 450.0,124.0 450.0,270.0 270.0,270.0" fill="#6a74b4"/>
<polygon points="340.0,208.0 370.0,200.0 385.0,185.0 388.0,200.0 360.0,212.0" fill="#72c5b7"/>
<polygon points="284.0,169.0 296.0,168.0 305.6,176.0 305.0,190.0 294.0,190.0 285.0,182.0" fill="#6a74b4"/>
<polygon points="257.5,181.0 268.0,180.0 279.0,188.0 276.0,198.0 262.0,199.0 257.0,192.0" fill="#6a74b4"/>
<polygon points="195.0,208.0 215.0,211.0 240.0,216.0 260.0,219.0 290.0,217.0 310.0,214.0 310.0,270.0 190.0,270.0" fill="#6a74b4"/>
<polygon points="194.0,186.0 200.0,186.0 210.0,200.0 218.0,212.0 212.0,220.0 200.0,214.0" fill="#6a74b4"/>
<polygon points="95.0,183.0 105.0,185.0 124.0,193.0 136.0,198.5 152.0,207.5 166.0,211.0 178.0,213.0 178.0,240.0 90.0,240.0" fill="#6a74b4"/>
<polygon points="180.0,218.0 205.0,217.0 233.5,223.0 260.0,226.0 287.0,225.0 295.0,222.0 300.0,270.0 175.0,270.0" fill="#3d2e6c"/>
<polygon points="388.0,90.0 396.0,90.0 397.0,97.0 389.0,98.0" fill="#52508f"/>
<polygon points="281.5,198.0 300.0,196.0 324.3,196.0 330.0,186.0 335.0,190.0 324.0,206.0 300.0,207.0 282.0,206.4" fill="#e9e895"/>
<polygon points="94.0,180.5 111.9,184.0 129.7,189.3 140.3,196.5 147.4,203.6 168.8,210.7 183.0,207.1 190.1,185.8 200.8,175.1 218.5,171.6 241.5,161.0 268.2,153.0 292.2,158.4 308.2,163.7 318.9,147.7 324.3,121.0 334.9,97.0 348.3,89.0 356.0,87.0 367.0,86.3 388.3,78.3 415.0,75.6 450.0,75.0 450.0,0.0 40.0,0.0 40.0,181.0" fill="#e9e895"/>
<polygon points="104.8,183.0 125.0,186.0 147.4,197.0 140.0,201.0 120.0,196.0 106.0,190.0" fill="#72c5b7"/>
<polygon points="356.0,95.0 376.0,100.0 372.0,125.0 357.0,145.0 345.0,165.0 336.0,180.0 332.0,185.0 334.0,165.0 345.0,140.0 355.0,115.0" fill="#e9e895"/>
<polygon points="94.1,168.0 111.9,171.6 129.7,173.3 147.4,178.7 165.2,182.2 175.9,175.1 193.7,164.5 200.8,150.2 218.5,146.7 236.3,141.3 254.1,136.0 270.9,129.0 281.8,124.9 285.1,108.2 291.8,94.9 300.1,83.2 305.1,69.9 315.1,61.6 330.1,53.2 352.0,48.0 352.0,0.0 40.0,0.0 40.0,163.0" fill="#f2a36e"/>
<polygon points="372.0,58.0 380.0,66.0 390.0,66.0 405.0,62.0 418.0,57.0 450.0,57.0 450.0,0.0 372.0,0.0" fill="#f2a36e"/>
<polygon points="98.0,150.0 101.2,155.6 120.8,164.5 147.4,168.0 165.2,162.7 174.1,153.8 193.7,148.5 207.9,141.3 222.1,125.3 241.5,110.3 257.5,94.3 265.5,78.3 273.5,64.9 292.2,51.6 286.9,38.2 285.0,0.0 100.0,0.0" fill="#cf775c"/>
<polygon points="170.0,0.0 262.9,0.0 262.9,35.6 254.8,51.6 238.8,59.6 236.2,64.9 214.8,64.9 209.5,70.3 210.8,81.0 220.1,94.3 206.8,105.0 190.8,118.3 180.1,123.7 170.0,100.0" fill="#b0483c"/>
<polygon points="131.0,131.0 150.0,133.0 157.0,140.0 150.0,147.0 135.0,147.0 127.0,140.0" fill="#b0483c"/>
<polygon points="30.0,100.0 108.0,100.0 103.0,156.0 106.0,168.0 104.0,183.0 30.0,200.0" fill="#e9e895"/>
<polyline points="50.0,134.0 66.0,138.0 78.9,141.7 91.3,148.9 100.0,153.0" fill="none" stroke="#72c5b7" stroke-width="3" stroke-linejoin="round" stroke-linecap="round"/>
<polygon points="78.0,124.0 86.0,124.0 86.0,134.0 78.0,134.0" fill="#72c5b7"/>
<polyline points="56.0,153.0 68.6,156.0 84.1,160.0 99.5,164.0 106.0,167.0" fill="none" stroke="#f2a36e" stroke-width="3" stroke-linejoin="round" stroke-linecap="round"/>
<polyline points="60.0,147.0 84.1,146.5 97.5,152.5" fill="none" stroke="#72c5b7" stroke-width="3" stroke-linejoin="round" stroke-linecap="round"/>
<polyline points="86.0,149.5 95.0,152.0" fill="none" stroke="#6a74b4" stroke-width="3" stroke-linejoin="round" stroke-linecap="round"/>
<polyline points="62.0,172.0 78.9,172.5 84.1,176.0 97.5,178.0 104.0,178.0" fill="none" stroke="#f2a36e" stroke-width="2.5" stroke-linejoin="round" stroke-linecap="round"/>
<polyline points="61.4,162.8 78.9,164.0 91.3,167.0 102.6,174.0" fill="none" stroke="#72c5b7" stroke-width="3.5" stroke-linejoin="round" stroke-linecap="round"/>
<polyline points="89.0,169.0 100.0,172.0" fill="none" stroke="#6a74b4" stroke-width="3" stroke-linejoin="round" stroke-linecap="round"/>
<polyline points="66.0,178.0 75.0,180.0 85.0,181.0" fill="none" stroke="#72c5b7" stroke-width="3" stroke-linejoin="round" stroke-linecap="round"/>
<polygon points="60.0,181.0 68.6,181.9 84.1,183.5 94.4,181.9 104.7,180.0 118.0,184.0 125.0,195.0 90.0,205.0 60.0,200.0" fill="#6c9cb4"/>
</g></g>
<use href="#bd"/><use href="#st"/>
</g>
<g transform="translate(4.1,515.8)">
<g clip-path="url(#lp)"><g filter="url(#rough)">
<polygon points="0.0,0.0 450.0,0.0 450.0,270.0 0.0,270.0" fill="#72c5b7"/>
<polygon points="300.0,205.0 330.0,195.0 360.0,188.0 380.0,178.0 390.0,186.0 370.0,196.0 350.0,203.0 325.0,210.0 305.0,212.0" fill="#6c9cb4"/>
<polygon points="244.0,222.0 280.0,219.0 307.0,216.0 325.0,210.0 350.0,203.0 370.0,196.0 385.0,186.0 388.0,165.0 388.0,150.0 378.5,130.0 385.0,120.0 400.0,115.0 450.0,115.0 450.0,270.0 244.0,270.0" fill="#6a74b4"/>
<polygon points="368.0,89.0 390.0,86.0 416.0,92.0 416.0,100.0 390.0,102.0 370.0,100.0" fill="#6c9cb4"/>
<polygon points="318.0,98.0 332.0,92.0 354.0,94.6 356.0,120.0 350.0,137.0 332.0,137.0 320.0,125.0" fill="#6c9cb4"/>
<polygon points="285.0,169.0 300.0,168.0 306.4,176.0 306.0,190.7 294.0,191.0 285.0,182.0" fill="#6a74b4"/>
<polygon points="247.6,182.0 265.0,180.0 279.7,186.0 277.0,200.0 260.0,201.4 248.0,194.0" fill="#6a74b4"/>
<polygon points="209.7,196.8 230.0,199.0 245.0,205.0 250.0,215.0 250.0,222.0 250.0,270.0 200.0,270.0" fill="#6a74b4"/>
<polygon points="193.0,179.0 199.0,179.0 210.0,196.0 212.0,211.0 205.0,214.0 196.0,200.0" fill="#6a74b4"/>
<polygon points="95.0,183.0 105.0,185.0 124.0,193.0 136.0,198.5 152.0,207.5 166.0,211.0 178.0,213.0 178.0,240.0 90.0,240.0" fill="#6a74b4"/>
<polygon points="182.0,214.0 210.0,216.0 234.0,217.4 260.0,224.0 288.0,222.0 295.0,218.0 300.0,270.0 175.0,270.0" fill="#3d2e6c"/>
<polygon points="386.5,89.0 397.0,89.0 398.0,100.0 388.0,100.0" fill="#3d2e6c"/>
<polygon points="384.0,160.0 394.0,160.0 396.0,180.0 386.0,184.0" fill="#3d2e6c"/>
<polygon points="95.9,180.8 113.7,182.5 131.5,186.1 142.1,196.8 152.8,203.9 170.6,211.0 184.8,203.9 191.9,179.0 202.6,171.9 220.3,166.5 238.1,161.2 255.9,152.0 269.0,140.0 287.7,132.0 301.0,124.0 309.0,116.0 319.7,100.0 330.4,89.3 343.7,81.3 351.8,73.3 354.4,84.0 370.0,82.0 390.0,76.0 410.0,72.0 420.0,78.0 450.0,78.0 450.0,0.0 40.0,0.0 40.0,182.0" fill="#e9e895"/>
<polygon points="106.6,181.0 125.0,184.0 145.7,196.8 138.0,200.0 120.0,195.0 108.0,189.0" fill="#72c5b7"/>
<polygon points="354.0,84.0 370.0,82.0 390.0,76.0 410.0,72.0 420.0,78.0 418.0,86.0 400.0,88.0 380.0,92.0 360.0,95.0" fill="#b0d8a8"/>
<polygon points="305.0,118.0 309.0,118.0 317.0,169.0 313.0,169.0" fill="#e9e895"/>
<polygon points="360.0,100.0 373.0,103.0 370.0,120.0 356.0,140.0 346.0,165.0 337.0,180.0 333.0,176.0 340.0,155.0 350.0,130.0 358.0,112.0" fill="#e9e895"/>
<polygon points="95.9,168.3 113.7,171.9 131.5,175.4 149.2,180.8 163.5,180.8 177.7,164.8 195.5,155.9 209.7,145.2 220.3,139.9 238.1,136.3 255.9,132.8 261.0,129.3 274.3,113.3 287.7,92.0 301.0,78.6 319.7,65.2 341.0,54.6 354.4,49.2 355.0,0.0 40.0,0.0 40.0,164.0" fill="#f2a36e"/>
<polygon points="392.0,58.0 404.0,56.0 416.0,58.0 420.0,52.0 392.0,45.0" fill="#f2a36e"/>
<polygon points="100.0,148.0 106.6,150.5 122.6,155.9 138.6,166.5 159.9,164.8 177.7,159.4 195.5,143.4 209.7,132.8 223.9,120.3 238.1,107.9 237.0,105.3 250.3,92.0 261.0,75.9 269.0,57.2 287.7,46.6 285.0,35.9 285.0,0.0 100.0,0.0 100.0,152.0" fill="#cf775c"/>
<polygon points="170.0,0.0 261.0,0.0 261.0,35.9 255.6,49.2 239.6,57.2 237.0,62.6 215.6,65.2 210.3,70.6 210.3,81.3 221.0,94.6 207.6,105.3 191.6,118.6 180.9,124.0 170.0,100.0" fill="#b0483c"/>
<polygon points="132.0,130.0 150.0,132.0 158.0,140.0 150.0,146.0 135.0,146.0 127.0,140.0" fill="#b0483c"/>
<polygon points="30.0,100.0 108.0,100.0 103.0,156.0 106.0,168.0 104.0,183.0 30.0,200.0" fill="#e9e895"/>
<polyline points="50.0,134.0 66.0,138.0 78.9,141.7 91.3,148.9 100.0,153.0" fill="none" stroke="#72c5b7" stroke-width="3" stroke-linejoin="round" stroke-linecap="round"/>
<polygon points="78.0,124.0 86.0,124.0 86.0,134.0 78.0,134.0" fill="#72c5b7"/>
<polyline points="56.0,153.0 68.6,156.0 84.1,160.0 99.5,164.0 106.0,167.0" fill="none" stroke="#f2a36e" stroke-width="3" stroke-linejoin="round" stroke-linecap="round"/>
<polyline points="60.0,147.0 84.1,146.5 97.5,152.5" fill="none" stroke="#72c5b7" stroke-width="3" stroke-linejoin="round" stroke-linecap="round"/>
<polyline points="86.0,149.5 95.0,152.0" fill="none" stroke="#6a74b4" stroke-width="3" stroke-linejoin="round" stroke-linecap="round"/>
<polyline points="62.0,172.0 78.9,172.5 84.1,176.0 97.5,178.0 104.0,178.0" fill="none" stroke="#f2a36e" stroke-width="2.5" stroke-linejoin="round" stroke-linecap="round"/>
<polyline points="61.4,162.8 78.9,164.0 91.3,167.0 102.6,174.0" fill="none" stroke="#72c5b7" stroke-width="3.5" stroke-linejoin="round" stroke-linecap="round"/>
<polyline points="89.0,169.0 100.0,172.0" fill="none" stroke="#6a74b4" stroke-width="3" stroke-linejoin="round" stroke-linecap="round"/>
<polyline points="66.0,178.0 75.0,180.0 85.0,181.0" fill="none" stroke="#72c5b7" stroke-width="3" stroke-linejoin="round" stroke-linecap="round"/>
<polygon points="60.0,181.0 68.6,181.9 84.1,183.5 94.4,181.9 104.7,180.0 118.0,184.0 125.0,195.0 90.0,205.0 60.0,200.0" fill="#6c9cb4"/>
</g></g>
<use href="#bd"/><use href="#st"/>
</g>
<g transform="translate(435.1,515.8)">
<g clip-path="url(#lp)"><g filter="url(#rough)">
<polygon points="0.0,0.0 450.0,0.0 450.0,270.0 0.0,270.0" fill="#72c5b7"/>
<polygon points="270.0,214.0 308.0,210.0 330.0,205.0 350.0,200.0 365.0,192.0 372.0,175.0 376.0,150.0 380.0,130.0 374.0,110.0 372.2,89.3 393.6,84.0 416.0,82.0 450.0,80.0 450.0,270.0 270.0,270.0" fill="#6a74b4"/>
<polygon points="340.0,150.0 355.0,130.0 368.0,140.0 366.0,175.0 350.0,190.0 336.0,190.0" fill="#72c5b7"/>
<polygon points="325.0,120.0 340.0,95.0 355.0,90.0 357.0,130.0 350.0,160.0 335.0,175.0 325.0,160.0" fill="#6c9cb4"/>
<polygon points="247.0,174.7 275.0,172.0 308.0,176.0 306.0,196.0 280.0,198.0 250.0,196.0" fill="#6e8db6"/>
<polygon points="192.0,175.0 198.0,175.0 206.0,190.0 210.0,210.0 204.0,218.0 196.0,200.0" fill="#6a74b4"/>
<polygon points="205.0,174.0 240.0,176.0 256.0,190.0 256.0,208.0 230.0,210.0 205.0,207.0" fill="#6e8db6"/>
<polygon points="205.0,207.0 230.0,208.0 256.0,209.0 280.0,210.0 309.0,208.0 310.0,270.0 200.0,270.0" fill="#6a74b4"/>
<polygon points="95.0,183.0 105.0,185.0 124.0,193.0 136.0,198.5 152.0,207.5 166.0,211.0 178.0,213.0 178.0,240.0 90.0,240.0" fill="#6a74b4"/>
<polygon points="178.0,213.0 195.0,212.0 206.0,216.0 233.0,217.0 260.0,224.0 288.0,222.0 295.0,218.0 300.0,270.0 175.0,270.0" fill="#3d2e6c"/>
<polygon points="385.0,88.0 397.0,88.0 398.0,100.0 388.0,100.0" fill="#3d2e6c"/>
<polygon points="385.5,158.7 393.6,158.0 396.0,180.0 386.0,182.0" fill="#3d2e6c"/>
<polygon points="95.9,182.5 113.7,186.1 138.6,186.1 154.6,182.5 167.0,180.8 175.9,171.9 191.9,168.3 202.6,157.6 220.3,154.1 238.1,150.5 255.9,141.6 273.4,132.0 290.0,118.0 304.2,98.0 320.9,88.5 337.6,75.2 347.6,65.2 354.2,58.5 353.5,84.0 372.2,89.3 393.6,78.6 415.0,75.9 450.0,75.0 450.0,0.0 40.0,0.0 40.0,182.0" fill="#e9e895"/>
<polygon points="140.0,186.0 155.0,183.0 167.0,181.0 176.0,172.0 185.0,175.0 185.0,198.0 165.0,203.0 150.0,198.0" fill="#b0d8a8"/>
<polygon points="273.0,132.0 290.0,118.0 304.0,98.0 321.0,88.5 338.0,75.0 348.0,65.0 356.0,62.0 358.0,80.0 345.0,95.0 330.0,108.0 310.0,125.0 290.0,140.0 275.0,145.0" fill="#b0d8a8"/>
<polygon points="366.0,100.0 376.0,103.0 372.0,125.0 356.0,145.0 346.0,170.0 337.0,185.0 333.0,182.0 340.0,160.0 350.0,135.0 362.0,115.0" fill="#e9e895"/>
<polygon points="305.0,115.0 309.0,115.0 316.0,165.0 312.0,165.0" fill="#e9e895"/>
<polygon points="95.9,168.3 113.7,173.6 131.5,171.9 149.2,177.2 159.9,175.4 167.0,164.8 177.7,159.4 195.5,152.3 206.1,143.4 220.3,138.1 238.1,127.4 255.9,116.8 260.0,105.3 278.8,84.0 297.5,67.9 321.5,59.9 345.5,54.6 354.0,50.0 354.0,0.0 40.0,0.0 40.0,168.0" fill="#f2a36e"/>
<polygon points="100.0,148.0 106.6,150.5 131.5,155.9 149.2,168.3 159.9,164.8 170.6,154.1 188.3,147.0 195.5,136.3 206.1,125.6 220.3,118.5 238.1,104.3 249.4,89.3 260.0,70.6 276.0,51.9 281.4,38.5 281.0,0.0 100.0,0.0 100.0,148.0" fill="#cf775c"/>
<polygon points="170.0,0.0 260.0,0.0 260.0,37.2 252.0,49.2 236.0,59.9 233.4,65.2 212.0,65.2 208.0,73.2 209.4,84.0 222.7,97.3 206.7,108.0 190.7,118.6 180.0,126.6 170.0,100.0" fill="#b0483c"/>
<polygon points="132.0,132.0 150.0,134.0 152.0,144.0 140.0,144.0 130.0,140.0" fill="#b0483c"/>
<polygon points="30.0,100.0 108.0,100.0 103.0,156.0 106.0,168.0 104.0,183.0 30.0,200.0" fill="#e9e895"/>
<polyline points="50.0,134.0 66.0,138.0 78.9,141.7 91.3,148.9 100.0,153.0" fill="none" stroke="#72c5b7" stroke-width="3" stroke-linejoin="round" stroke-linecap="round"/>
<polygon points="78.0,124.0 86.0,124.0 86.0,134.0 78.0,134.0" fill="#72c5b7"/>
<polyline points="56.0,153.0 68.6,156.0 84.1,160.0 99.5,164.0 106.0,167.0" fill="none" stroke="#f2a36e" stroke-width="3" stroke-linejoin="round" stroke-linecap="round"/>
<polyline points="60.0,147.0 84.1,146.5 97.5,152.5" fill="none" stroke="#72c5b7" stroke-width="3" stroke-linejoin="round" stroke-linecap="round"/>
<polyline points="86.0,149.5 95.0,152.0" fill="none" stroke="#6a74b4" stroke-width="3" stroke-linejoin="round" stroke-linecap="round"/>
<polyline points="62.0,172.0 78.9,172.5 84.1,176.0 97.5,178.0 104.0,178.0" fill="none" stroke="#f2a36e" stroke-width="2.5" stroke-linejoin="round" stroke-linecap="round"/>
<polyline points="61.4,162.8 78.9,164.0 91.3,167.0 102.6,174.0" fill="none" stroke="#72c5b7" stroke-width="3.5" stroke-linejoin="round" stroke-linecap="round"/>
<polyline points="89.0,169.0 100.0,172.0" fill="none" stroke="#6a74b4" stroke-width="3" stroke-linejoin="round" stroke-linecap="round"/>
<polyline points="66.0,178.0 75.0,180.0 85.0,181.0" fill="none" stroke="#72c5b7" stroke-width="3" stroke-linejoin="round" stroke-linecap="round"/>
<polygon points="60.0,181.0 68.6,181.9 84.1,183.5 94.4,181.9 104.7,180.0 118.0,184.0 125.0,195.0 90.0,205.0 60.0,200.0" fill="#6c9cb4"/>
</g></g>
<use href="#bd"/><use href="#st"/>
</g>
<text x="49" y="51" font-size="20">(a) 1960–1989</text>
<text x="473" y="51" font-size="20">(b) 1970–1999</text>
<text x="49" y="314" font-size="20">(c) 1980–2009</text>
<text x="473" y="314" font-size="20">(d) 1990–2019</text>
<text x="49" y="568.8" font-size="20">(e) 2000–2019</text>
<text x="473" y="568.8" font-size="20">(f) 2010–2019</text>
<text x="887.6" y="41" font-size="19.5" text-anchor="middle">N</text>
<path d="M887.4,43.5 L878.6,71.5 L887.4,61.5 Z" fill="#111" stroke="#111" stroke-width="1" stroke-linejoin="miter"/>
<path d="M887.4,43.5 L896,71.5 L887.4,61.5 Z" fill="#fff" stroke="#111" stroke-width="1.2" stroke-linejoin="miter"/>
<text x="14" y="747.2" font-size="20">Legend</text>
<text x="12.3" y="773.3" font-size="20">Precipitation (mm)</text>
<text x="13.2" y="801" font-size="20">100</text>
<text x="47.5" y="801" font-size="20">200</text>
<text x="81.7" y="801" font-size="20">300</text>
<text x="116" y="801" font-size="20">400</text>
<text x="150.5" y="801" font-size="20">500</text>
<text x="182.9" y="801" font-size="20">600</text>
<text x="215" y="801" font-size="20">700</text>
<text x="249.5" y="801" font-size="20">800</text>
<rect x="27.70" y="805.6" width="33.30" height="13.6" fill="#b9533a" stroke="#6a5a5a" stroke-width="0.9"/>
<rect x="61.00" y="805.6" width="33.50" height="13.6" fill="#cf7862" stroke="#6a5a5a" stroke-width="0.9"/>
<rect x="94.50" y="805.6" width="33.50" height="13.6" fill="#e8ac82" stroke="#6a5a5a" stroke-width="0.9"/>
<rect x="128.00" y="805.6" width="33.00" height="13.6" fill="#f3ee82" stroke="#6a5a5a" stroke-width="0.9"/>
<rect x="161.00" y="805.6" width="33.30" height="13.6" fill="#7bc8bc" stroke="#6a5a5a" stroke-width="0.9"/>
<rect x="194.30" y="805.6" width="33.40" height="13.6" fill="#707ab0" stroke="#6a5a5a" stroke-width="0.9"/>
<rect x="227.70" y="805.6" width="33.30" height="13.6" fill="#433068" stroke="#6a5a5a" stroke-width="0.9"/>
<rect x="293.8" y="807.6" width="30.8" height="13.6" fill="#ece7e3" stroke="#222" stroke-width="1.2"/>
<text x="332.5" y="820" font-size="20">Geomorphological zone</text>
<circle cx="532.5" cy="815" r="1.8" fill="#ec8a66" stroke="#1a1a1a" stroke-width="1.3"/>
<text x="540.7" y="820" font-size="20">Meteorological station</text>
<text x="763" y="804" font-size="20">0</text>
<text x="787.5" y="804" font-size="20">55 km</text>
<path d="M768.8,810.5 V817 H799.2 V810.5" fill="none" stroke="#222" stroke-width="1.3"/>
</svg></body></html>
